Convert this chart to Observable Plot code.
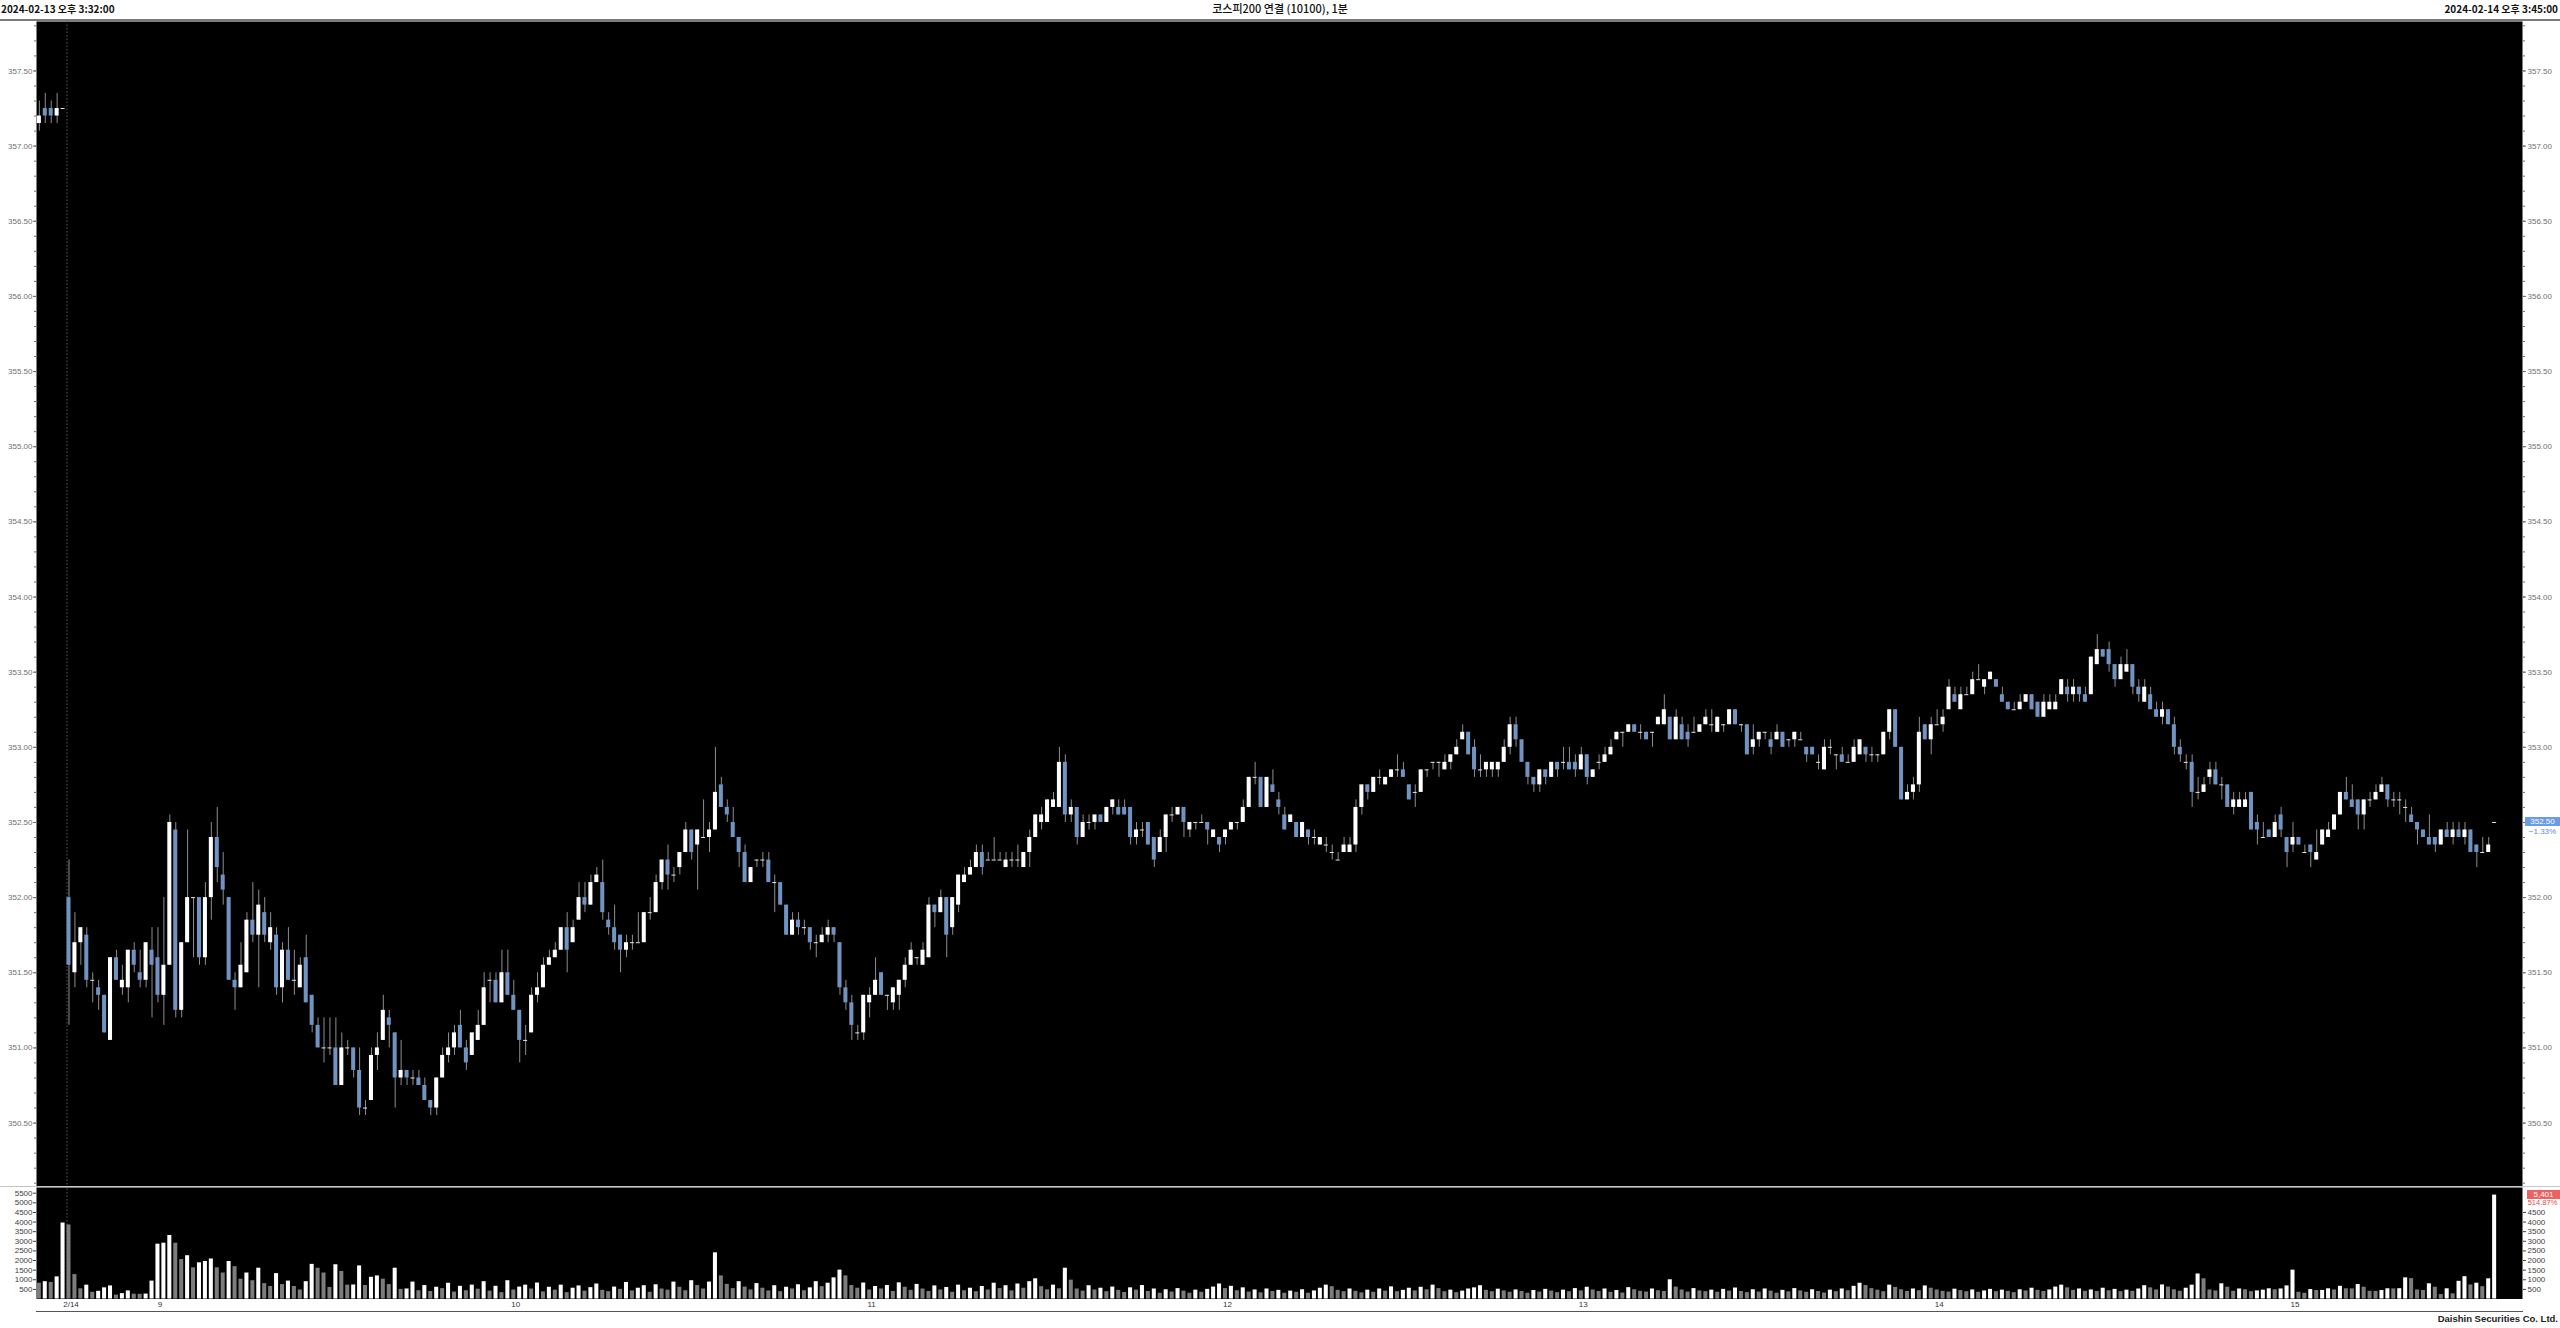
<!DOCTYPE html>
<html><head><meta charset="utf-8">
<script src="https://cdn.jsdelivr.net/npm/d3@7"></script>
<script src="https://cdn.jsdelivr.net/npm/@observablehq/plot@0.6"></script>
<style>
html,body{margin:0;padding:0;background:#fff;}
body{width:2560px;height:1328px;position:relative;overflow:hidden;font-family:"Liberation Sans",Arial,sans-serif;}
.abs{position:absolute;}
.hdr{position:absolute;top:3px;font-family:"Noto Sans CJK KR","Liberation Sans",sans-serif;font-size:10px;font-weight:bold;color:#111;line-height:12px;white-space:nowrap;}
</style></head><body>
<div class="hdr" id="hl" style="left:1px;"></div>
<div class="hdr" id="hc" style="left:0;width:2560px;text-align:center;font-size:11px;font-weight:500;top:2px;"></div>
<div class="hdr" id="hr" style="right:2px;"></div>
<div class="abs" style="left:0;top:19px;width:2560px;height:2px;background:#7a7a7a;"></div>
<div class="abs" id="price" style="left:0;top:21px;"></div>
<div class="abs" style="left:0;top:1186px;width:2560px;height:1px;background:#c4c4c4;"></div>
<div class="abs" id="vol" style="left:0;top:1187px;"></div>
<div class="abs" style="left:36px;top:1311px;width:2487px;height:1px;background:#555;"></div>
<div class="abs" id="footer" style="right:2px;top:1313px;font-size:9.5px;font-weight:bold;color:#222;"></div>
<div class="abs" id="plabel" style="left:2525px;width:35px;height:9px;background:#6a9be6;color:#fff;font-size:8px;line-height:9px;text-align:center;"></div>
<div class="abs" id="ppct" style="left:2525px;width:35px;color:#5a8be0;font-size:8px;line-height:9px;text-align:center;"></div>
<div class="abs" id="vlabel" style="left:2527px;width:33px;height:9px;background:#f06060;color:#fff;font-size:8px;line-height:9px;text-align:center;"></div>
<div class="abs" id="vpct" style="left:2525px;width:35px;color:#e84848;font-size:7.5px;line-height:8px;text-align:center;"></div>
<script>
// ---- texts ----
const headerLeft = "2024-02-13 오후 3:32:00";
const headerTitle = "코스피200 연결 (10100), 1분";
const headerRight = "2024-02-14 오후 3:45:00";
const footerText = "Daishin Securities Co. Ltd.";

// ---- data: 5 bars of 2024-02-13 followed by 410 one-minute bars of 2024-02-14 ----
const prevDayBars = 5;
const open = [357.15,357.25,357.25,357.20,357.25,
352.00,351.50,351.70,351.75,351.45,351.40,351.35,351.05,351.60,351.40,
351.40,351.65,351.50,351.45,351.65,351.60,351.35,351.55,352.45,351.25,
351.70,352.00,352.00,351.60,352.00,352.40,352.15,352.00,351.45,351.40,
351.50,351.85,351.75,351.90,351.70,351.75,351.40,351.65,351.45,351.40,
351.60,351.35,351.15,351.00,351.00,351.00,350.75,351.00,351.00,350.85,
350.60,350.65,350.95,351.05,351.20,351.10,350.80,350.85,350.80,350.80,
350.75,350.65,350.60,350.80,350.95,351.00,351.15,351.00,350.95,351.05,
351.15,351.45,351.45,351.30,351.50,351.35,351.25,351.05,351.10,351.35,
351.40,351.55,351.60,351.65,351.80,351.70,351.85,352.00,351.95,352.10,
352.10,351.85,351.80,351.75,351.65,351.70,351.70,351.70,351.90,351.90,
352.10,352.25,352.15,352.20,352.30,352.45,352.35,352.40,352.40,352.45,
352.75,352.60,352.50,352.40,352.30,352.10,352.25,352.25,352.25,352.10,
352.10,351.95,351.75,351.85,351.80,351.80,351.70,351.70,351.75,351.80,
351.70,351.40,351.30,351.10,351.10,351.30,351.35,351.50,351.35,351.30,
351.35,351.45,351.55,351.60,351.55,351.60,351.95,351.90,352.00,351.80,
351.95,352.10,352.15,352.20,352.30,352.25,352.25,352.25,352.20,352.25,
352.25,352.20,352.30,352.40,352.50,352.50,352.60,352.60,352.90,352.55,
352.60,352.40,352.50,352.50,352.55,352.50,352.60,352.60,352.60,352.60,
352.40,352.45,352.50,352.40,352.30,352.40,352.55,352.55,352.60,352.45,
352.50,352.50,352.50,352.40,352.40,352.40,352.45,352.50,352.50,352.60,
352.80,352.80,352.60,352.75,352.65,352.55,352.50,352.50,352.40,352.45,
352.40,352.35,352.35,352.30,352.25,352.30,352.30,352.35,352.60,352.75,
352.70,352.80,352.75,352.80,352.85,352.85,352.75,352.70,352.70,352.85,
352.90,352.90,352.85,352.90,352.95,353.05,353.10,353.00,352.85,352.85,
352.85,352.85,352.90,353.00,353.15,353.05,352.90,352.80,352.75,352.85,
352.80,352.90,352.90,352.90,352.90,352.85,352.95,352.80,352.90,352.90,
352.95,353.05,353.10,353.10,353.15,353.10,353.10,353.10,353.15,353.15,
353.20,353.05,353.15,353.10,353.10,353.10,353.15,353.15,353.10,353.15,
353.15,353.25,353.15,353.15,353.00,353.05,353.10,353.05,353.05,353.10,
353.05,353.05,353.05,353.00,353.00,352.90,352.85,353.00,352.95,352.95,
352.90,352.90,352.95,353.00,352.95,352.95,352.95,353.10,353.25,353.00,
352.65,352.70,352.75,353.15,353.05,353.15,353.15,353.25,353.35,353.25,
353.35,353.35,353.45,353.40,353.45,353.45,353.35,353.30,353.25,353.25,
353.30,353.35,353.30,353.20,353.25,353.25,353.35,353.40,353.35,353.40,
353.35,353.35,353.55,353.65,353.65,353.55,353.45,353.50,353.55,353.40,
353.30,353.35,353.25,353.20,353.25,353.15,353.00,352.90,352.90,352.70,
352.70,352.80,352.85,352.75,352.75,352.60,352.60,352.60,352.70,352.50,
352.40,352.45,352.40,352.55,352.40,352.35,352.40,352.30,352.35,352.25,
352.35,352.40,352.45,352.55,352.70,352.65,352.65,352.55,352.65,352.65,
352.70,352.75,352.65,352.65,352.60,352.55,352.50,352.45,352.40,352.40,
352.35,352.45,352.40,352.45,352.40,352.45,352.35,352.30,352.30,352.50];

const high = [357.30,357.35,357.30,357.35,357.25,
352.25,351.90,351.80,351.80,351.50,351.45,351.35,351.60,351.65,351.55,
351.65,351.70,351.65,351.70,351.80,351.80,352.00,352.55,352.50,351.70,
352.45,352.00,352.00,352.10,352.50,352.60,352.30,352.00,351.50,351.70,
351.90,352.10,352.05,352.00,351.90,351.80,351.70,351.80,351.65,351.60,
351.75,351.35,351.20,351.20,351.20,351.20,351.10,351.05,351.00,351.00,
350.65,351.00,351.10,351.35,351.25,351.10,351.05,350.85,350.85,350.85,
350.80,350.65,350.80,351.00,351.10,351.15,351.25,351.05,351.10,351.25,
351.50,351.50,351.50,351.65,351.65,351.45,351.25,351.15,351.40,351.50,
351.60,351.65,351.70,351.80,351.90,351.85,352.10,352.10,352.15,352.20,
352.25,351.90,351.95,351.75,351.75,351.75,351.90,351.90,352.00,352.15,
352.25,352.35,352.20,352.30,352.50,352.45,352.45,352.65,352.50,353.00,
352.80,352.65,352.60,352.40,352.35,352.20,352.25,352.30,352.30,352.15,
352.10,351.95,351.90,351.90,351.85,351.80,351.75,351.80,351.85,351.80,
351.70,351.45,351.35,351.15,351.35,351.40,351.60,351.50,351.35,351.40,
351.45,351.60,351.70,351.60,351.70,352.00,351.95,352.05,352.00,352.00,
352.15,352.20,352.25,352.35,352.35,352.30,352.40,352.30,352.30,352.30,
352.35,352.30,352.45,352.55,352.60,352.65,352.70,353.00,352.95,352.65,
352.60,352.55,352.55,352.55,352.55,352.60,352.65,352.65,352.65,352.60,
352.50,352.50,352.50,352.40,352.45,352.55,352.60,352.60,352.60,352.50,
352.50,352.55,352.50,352.45,352.40,352.45,352.50,352.50,352.65,352.80,
352.90,352.80,352.80,352.85,352.70,352.60,352.55,352.50,352.50,352.45,
352.45,352.40,352.40,352.35,352.30,352.40,352.40,352.65,352.75,352.75,
352.80,352.85,352.80,352.85,352.95,352.90,352.75,352.75,352.85,352.85,
352.90,352.90,352.95,352.95,353.05,353.15,353.10,353.05,352.95,352.90,
352.90,352.90,353.05,353.20,353.20,353.05,352.90,352.80,352.85,352.85,
352.90,352.90,353.00,353.00,352.95,353.00,352.95,352.85,352.95,353.00,
353.05,353.10,353.10,353.15,353.15,353.15,353.10,353.10,353.20,353.35,
353.20,353.25,353.20,353.15,353.20,353.15,353.25,353.25,353.20,353.15,
353.25,353.25,353.15,353.15,353.15,353.10,353.10,353.10,353.15,353.10,
353.05,353.10,353.10,353.00,353.00,352.95,353.05,353.05,352.95,353.00,
352.95,353.05,353.05,353.00,353.00,352.95,353.10,353.25,353.25,353.00,
352.75,352.80,353.20,353.15,353.20,353.25,353.25,353.45,353.40,353.40,
353.40,353.50,353.55,353.45,353.50,353.45,353.40,353.30,353.30,353.35,
353.35,353.35,353.30,353.35,353.35,353.35,353.45,353.45,353.45,353.40,
353.40,353.60,353.75,353.65,353.70,353.55,353.60,353.65,353.55,353.45,
353.45,353.40,353.30,353.30,353.25,353.20,353.05,352.95,352.95,352.80,
352.80,352.90,352.90,352.80,352.75,352.70,352.70,352.70,352.70,352.55,
352.50,352.45,352.55,352.60,352.40,352.50,352.40,352.35,352.35,352.45,
352.45,352.50,352.55,352.70,352.80,352.75,352.65,352.65,352.70,352.75,
352.80,352.75,352.70,352.70,352.65,352.60,352.50,352.45,352.55,352.40,
352.45,352.50,352.50,352.50,352.50,352.45,352.35,352.40,352.40,352.50];

const low = [357.10,357.15,357.15,357.15,357.25,
351.15,351.40,351.55,351.40,351.30,351.25,351.10,351.05,351.45,351.35,
351.30,351.50,351.40,351.40,351.20,351.30,351.15,351.55,351.20,351.20,
351.70,351.60,351.55,351.55,351.85,352.10,351.95,351.45,351.25,351.40,
351.50,351.70,351.40,351.70,351.65,351.35,351.30,351.45,351.35,351.40,
351.30,351.10,351.00,350.90,350.95,350.75,350.75,350.95,350.80,350.55,
350.55,350.65,350.85,351.05,351.00,350.60,350.75,350.75,350.75,350.75,
350.65,350.55,350.55,350.80,350.90,350.95,351.00,350.85,350.95,351.05,
351.15,351.30,351.30,351.30,351.35,351.25,350.90,350.95,351.10,351.30,
351.40,351.55,351.60,351.65,351.50,351.70,351.85,351.90,351.95,352.10,
351.85,351.75,351.65,351.50,351.60,351.65,351.70,351.70,351.85,351.90,
352.05,352.05,352.10,352.15,352.30,352.25,352.05,352.40,352.30,352.45,
352.60,352.50,352.40,352.20,352.10,352.10,352.20,352.20,352.10,351.90,
351.95,351.75,351.75,351.75,351.75,351.65,351.60,351.70,351.70,351.70,
351.35,351.25,351.05,351.05,351.05,351.20,351.35,351.35,351.25,351.25,
351.25,351.40,351.55,351.55,351.55,351.60,351.80,351.90,351.60,351.75,
351.90,352.10,352.15,352.20,352.15,352.25,352.25,352.25,352.20,352.20,
352.20,352.20,352.20,352.40,352.45,352.50,352.60,352.60,352.50,352.50,
352.35,352.40,352.45,352.45,352.50,352.50,352.55,352.55,352.55,352.35,
352.35,352.40,352.35,352.20,352.30,352.30,352.50,352.55,352.40,352.40,
352.45,352.50,352.35,352.40,352.30,352.35,352.45,352.45,352.50,352.60,
352.75,352.60,352.60,352.70,352.55,352.45,352.50,352.40,352.40,352.35,
352.35,352.35,352.30,352.25,352.25,352.30,352.30,352.30,352.55,352.65,
352.70,352.75,352.75,352.80,352.80,352.80,352.65,352.60,352.70,352.80,
352.85,352.80,352.85,352.85,352.95,353.05,352.95,352.80,352.80,352.80,
352.80,352.80,352.90,352.95,353.00,352.90,352.75,352.70,352.70,352.75,
352.80,352.80,352.85,352.85,352.80,352.85,352.75,352.80,352.85,352.90,
352.95,353.05,353.00,353.10,353.10,353.05,353.05,353.00,353.15,353.15,
353.05,353.05,353.05,353.00,353.10,353.10,353.15,353.10,353.10,353.10,
353.15,353.15,353.10,352.95,352.95,353.00,353.05,352.95,353.05,353.00,
353.00,353.00,353.05,352.90,352.95,352.85,352.85,352.95,352.85,352.90,
352.90,352.90,352.95,352.90,352.90,352.90,352.95,353.05,353.00,352.65,
352.65,352.65,352.70,353.05,352.95,353.15,353.10,353.25,353.30,353.25,
353.35,353.35,353.45,353.35,353.45,353.40,353.30,353.25,353.25,353.25,
353.30,353.25,353.20,353.20,353.25,353.25,353.35,353.30,353.30,353.30,
353.30,353.35,353.55,353.60,353.50,353.40,353.45,353.50,353.35,353.30,
353.30,353.25,353.20,353.15,353.15,352.95,352.90,352.85,352.60,352.65,
352.70,352.75,352.75,352.65,352.60,352.55,352.60,352.60,352.45,352.35,
352.40,352.40,352.40,352.40,352.20,352.30,352.35,352.30,352.20,352.25,
352.35,352.40,352.45,352.55,352.65,352.60,352.45,352.45,352.60,352.65,
352.70,352.60,352.60,352.55,352.50,352.50,352.35,352.40,352.35,352.30,
352.35,352.40,352.35,352.40,352.35,352.30,352.20,352.30,352.30,352.50];

const close = [357.20,357.20,357.20,357.25,357.25,
351.55,351.70,351.80,351.45,351.45,351.35,351.10,351.60,351.45,351.45,
351.65,351.55,351.45,351.70,351.55,351.35,351.55,352.50,351.25,351.70,
352.00,352.00,351.60,352.00,352.40,352.20,352.05,351.45,351.40,351.55,
351.85,351.75,351.95,351.75,351.80,351.40,351.65,351.45,351.45,351.55,
351.30,351.15,351.00,351.00,351.00,350.75,351.00,351.00,350.85,350.60,
350.60,350.95,351.00,351.25,351.15,350.80,350.85,350.80,350.80,350.75,
350.65,350.60,350.80,350.95,351.00,351.10,351.00,350.90,351.10,351.15,
351.40,351.45,351.30,351.50,351.35,351.25,351.05,351.05,351.35,351.40,
351.55,351.60,351.65,351.80,351.65,351.80,352.00,351.95,352.10,352.15,
351.90,351.80,351.70,351.65,351.70,351.70,351.70,351.90,351.90,352.10,
352.25,352.15,352.15,352.30,352.45,352.30,352.45,352.40,352.45,352.70,
352.60,352.55,352.40,352.30,352.10,352.20,352.25,352.25,352.10,352.10,
351.95,351.75,351.85,351.80,351.80,351.70,351.70,351.75,351.80,351.75,
351.40,351.30,351.15,351.10,351.35,351.35,351.45,351.35,351.35,351.40,
351.45,351.55,351.65,351.60,351.65,351.95,351.90,352.00,351.75,352.00,
352.15,352.15,352.20,352.30,352.20,352.25,352.25,352.25,352.25,352.25,
352.25,352.30,352.40,352.55,352.55,352.65,352.65,352.90,352.55,352.60,
352.40,352.50,352.50,352.55,352.50,352.60,352.65,352.55,352.55,352.40,
352.45,352.45,352.35,352.25,352.40,352.55,352.55,352.60,352.50,352.50,
352.50,352.50,352.45,352.45,352.35,352.45,352.50,352.50,352.60,352.80,
352.80,352.60,352.80,352.70,352.60,352.45,352.55,352.40,352.50,352.40,
352.40,352.40,352.35,352.30,352.25,352.35,352.35,352.60,352.75,352.70,
352.80,352.80,352.80,352.85,352.85,352.80,352.65,352.70,352.85,352.85,
352.90,352.90,352.90,352.95,353.00,353.10,352.95,352.85,352.85,352.90,
352.90,352.90,353.00,353.15,353.05,352.90,352.80,352.75,352.85,352.80,
352.90,352.85,352.90,352.85,352.85,352.95,352.80,352.85,352.90,352.95,
353.00,353.10,353.10,353.15,353.10,353.10,353.05,353.10,353.20,353.25,
353.05,353.20,353.05,353.05,353.10,353.15,353.20,353.15,353.20,353.15,
353.25,353.15,353.15,352.95,353.05,353.10,353.10,353.00,353.10,353.00,
353.05,353.10,353.05,352.95,352.95,352.90,353.00,353.00,352.95,352.90,
352.90,353.00,353.05,352.95,352.95,352.95,353.10,353.25,353.00,352.65,
352.70,352.75,353.10,353.05,353.15,353.15,353.20,353.40,353.30,353.35,
353.35,353.45,353.45,353.45,353.50,353.40,353.30,353.25,353.25,353.30,
353.35,353.25,353.20,353.30,353.30,353.30,353.45,353.35,353.40,353.35,
353.30,353.60,353.65,353.60,353.55,353.45,353.55,353.55,353.40,353.35,
353.40,353.25,353.20,353.25,353.15,353.00,352.95,352.90,352.70,352.70,
352.75,352.85,352.75,352.75,352.60,352.65,352.65,352.65,352.45,352.45,
352.40,352.40,352.50,352.45,352.30,352.40,352.35,352.30,352.30,352.30,
352.45,352.45,352.55,352.70,352.65,352.60,352.55,352.65,352.65,352.70,
352.75,352.65,352.65,352.65,352.60,352.50,352.45,352.40,352.35,352.35,
352.45,352.40,352.45,352.40,352.45,352.30,352.30,352.30,352.35,352.50];

const volume = [820,900,860,1150,3950,
3850,1270,530,720,350,400,580,680,200,280,
420,250,245,255,930,2850,2900,3300,2900,2050,
2250,1620,1880,1950,2080,1620,1350,1950,1680,1030,
1350,950,1600,800,650,1320,750,930,650,470,
900,1800,1600,1350,600,1780,1430,720,730,1720,
700,1130,1200,1030,750,1600,500,
520,880,430,700,390,610,540,820,360,660,
430,720,510,900,410,660,330,950,470,620,
720,520,830,370,610,460,720,330,560,680,
410,590,780,450,380,620,500,860,420,560,
690,350,740,520,460,880,610,430,950,700,
520,880,2400,1200,760,540,900,620,470,800,
560,420,690,380,610,520,740,430,580,900,
640,820,1100,1500,1200,700,560,830,470,650,
520,700,390,840,610,450,760,520,390,680,
470,600,350,720,430,560,380,650,470,820,
540,690,420,780,560,900,1050,640,480,720,
530,1600,980,520,410,690,470,560,380,620,
450,340,580,460,700,390,520,300,480,360,
540,410,300,460,350,500,620,780,540,660,
430,580,360,470,320,520,390,450,300,410,
350,480,300,420,560,720,640,450,380,520,
400,320,460,350,520,410,630,380,450,560,
420,610,480,720,540,380,460,330,410,520,
580,690,450,380,510,420,350,470,390,300,
440,360,500,410,330,460,380,540,420,610,
470,390,520,350,440,310,590,480,400,360,
520,430,390,1000,620,470,360,540,420,380,
460,350,500,410,570,390,330,480,360,520,
410,300,450,370,540,420,350,480,390,310,
460,380,520,430,660,820,700,540,460,380,
720,600,480,390,520,430,680,560,470,400,
360,510,440,380,470,350,420,500,380,460,
400,330,480,420,560,450,390,470,620,720,
580,450,520,400,470,390,560,430,500,380,
460,400,520,690,580,470,730,620,480,400,
560,720,1300,1050,470,420,790,610,400,520,
480,380,420,460,530,480,520,680,1500,
350,300,490,440,445,530,470,660,530,525,
750,610,400,395,440,530,525,535,1100,1060,
470,440,790,610,230,530,270,920,1160,730,
820,640,1049,5401];

// axis ticks and labels
const priceTicks = [350.5,351,351.5,352,352.5,353,353.5,354,354.5,355,355.5,356,356.5,357,357.5];
const volumeTicksLeft = [500,1000,1500,2000,2500,3000,3500,4000,4500,5000,5500];
const volumeTicksRight = [500,1000,1500,2000,2500,3000,3500,4000,4500];
const timeTickIndex = [5,20,80,140,200,260,320,380];
const timeTickLabels = ["2/14","9","10","11","12","13","14","15"];

// ---- build ----
document.getElementById("hl").textContent = headerLeft;
document.getElementById("hc").textContent = headerTitle;
document.getElementById("hr").textContent = headerRight;
document.getElementById("footer").textContent = footerText;

const UP = "#ffffff", DOWN = "#7093c2", WICK = "#8e8e8e";
const bars = open.map((o, i) => ({i, o, h: high[i], l: low[i], c: close[i], v: volume[i]}));
const bodies = bars.filter(d => d.c !== d.o);
const dojis = bars.filter(d => d.c === d.o);
const half = 0.34;
const xDomain = [-0.48, 418.7];
const minorTicks = d3.range(350.1, 357.85, 0.1).map(v => +v.toFixed(2));
const labelOf = new Map(timeTickIndex.map((p, j) => [p, timeTickLabels[j]]));

const pricePlot = Plot.plot({
  width: 2560, height: 1165,
  marginLeft: 36, marginRight: 38, marginTop: 0, marginBottom: 0,
  style: {background: "transparent", fontFamily: "Liberation Sans, Arial, sans-serif", overflow: "visible"},
  x: {type: "linear", domain: xDomain, axis: null, label: null},
  y: {domain: [350.078, 357.829], label: null},
  marks: [
    Plot.frame({fill: "#000", stroke: null}),
    Plot.ruleX([prevDayBars], {x: d => d, dx: -2, stroke: "#5a5a5a", strokeDasharray: "1.5,2"}),
    Plot.ruleX(bars, {x: "i", y1: "l", y2: "h", stroke: WICK, strokeWidth: 1}),
    Plot.rect(bodies, {x1: d => d.i - half, x2: d => d.i + half, y1: d => Math.min(d.o, d.c), y2: d => Math.max(d.o, d.c), fill: d => d.c > d.o ? UP : DOWN}),
    Plot.ruleY(dojis, {x1: d => d.i - half, x2: d => d.i + half, y: "c", stroke: "#e8e8e8", strokeWidth: 1}),
    Plot.axisY({anchor: "left", label: null, ticks: priceTicks, tickFormat: d3.format(".2f"), tickSize: 3, tickPadding: 1, fontSize: 8, color: "#707070"}),
    Plot.axisY({anchor: "left", label: null, ticks: minorTicks, tickFormat: () => "", tickSize: 2, color: "#707070"}),
    Plot.axisY({anchor: "right", label: null, ticks: priceTicks, tickFormat: d3.format(".2f"), tickSize: 3, tickPadding: 2, fontSize: 8, color: "#707070"}),
    Plot.axisY({anchor: "right", label: null, ticks: minorTicks, tickFormat: () => "", tickSize: 2, color: "#707070"})
  ]
});
document.getElementById("price").appendChild(pricePlot);

const volPlot = Plot.plot({
  width: 2560, height: 124,
  marginLeft: 36, marginRight: 38, marginTop: 0, marginBottom: 12.5,
  style: {background: "transparent", fontFamily: "Liberation Sans, Arial, sans-serif", overflow: "visible"},
  x: {type: "linear", domain: xDomain, label: null},
  y: {domain: [0, 5796], label: null},
  marks: [
    Plot.frame({fill: "#000", stroke: null}),
    Plot.ruleX([prevDayBars], {x: d => d, dx: -2, y1: 0, y2: 5796, stroke: "#5a5a5a", strokeDasharray: "1.5,2"}),
    Plot.rect(bars, {x1: d => d.i - half, x2: d => d.i + half, y1: 0, y2: "v",
      fill: d => (d.i > 0 && d.v > volume[d.i - 1]) ? "#ffffff" : "#7c7c7c"}),
    Plot.axisY({anchor: "left", label: null, ticks: volumeTicksLeft, tickFormat: d => String(d), tickSize: 3, tickPadding: 1, fontSize: 8, color: "#404040"}),
    Plot.axisY({anchor: "right", label: null, ticks: volumeTicksRight, tickFormat: d => String(d), tickSize: 3, tickPadding: 2, fontSize: 8, color: "#404040"}),
    Plot.axisX({anchor: "bottom", label: null, ticks: timeTickIndex, tickFormat: d => labelOf.get(d), tickSize: 0, tickPadding: 2, fontSize: 8, color: "#333", dx: 2})
  ]
});
document.getElementById("vol").appendChild(volPlot);

// right-side value labels
const last = bars[bars.length - 1];
const prevClose = close[prevDayBars - 1];
const py = 21 + pricePlot.scale("y").apply(last.c);
const pl = document.getElementById("plabel");
pl.textContent = d3.format(".2f")(last.c);
pl.style.top = (py - 4.5) + "px";
const pp = document.getElementById("ppct");
pp.textContent = d3.format(".2f")((last.c - prevClose) / prevClose * 100) + "%";
pp.style.top = (py + 5) + "px";
const vy = 1187 + volPlot.scale("y").apply(last.v);
const vl = document.getElementById("vlabel");
vl.textContent = d3.format(",")(last.v);
vl.style.top = (vy - 4.5) + "px";
const vp = document.getElementById("vpct");
vp.textContent = d3.format(".2f")(last.v / volume[volume.length - 2] * 100) + "%";
vp.style.top = (vy + 4.5) + "px";
</script>
</body></html>
